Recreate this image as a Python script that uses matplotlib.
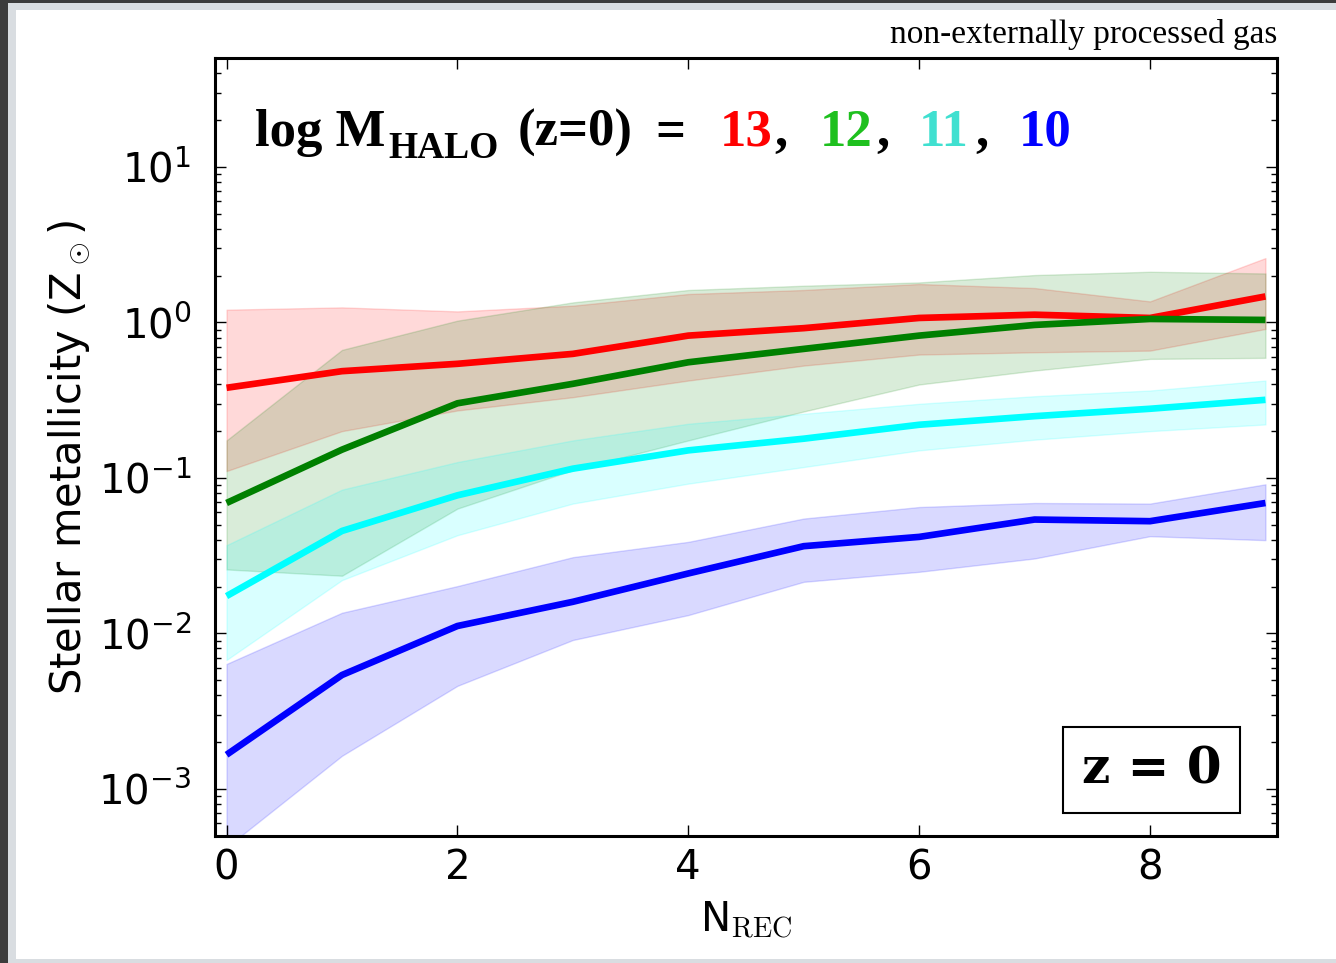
import numpy as np
import matplotlib
matplotlib.use('Agg')
import matplotlib.pyplot as plt
from matplotlib.patches import Rectangle

plt.rcParams['mathtext.fontset'] = 'cm'
plt.rcParams['font.family'] = ['DejaVu Sans']
plt.rcParams['axes.unicode_minus'] = False

# data (stellar metallicity in Z_sun vs N_REC)
n_rec = np.arange(10)
halo_mass = [13, 12, 11, 10]

z13_med = [0.380, 0.486, 0.542, 0.628, 0.823, 0.919, 1.069, 1.122, 1.069, 1.47]
z13_hi = [1.208, 1.25, 1.178, 1.282, 1.524, 1.617, 1.767, 1.665, 1.366, 2.594]
z13_lo = [0.1107, 0.200, 0.2716, 0.3306, 0.423, 0.528, 0.6216, 0.643, 0.659, 0.908]

z12_med = [0.069, 0.152, 0.302, 0.403, 0.5545, 0.676, 0.823, 0.964, 1.053, 1.038]
z12_hi = [0.1743, 0.666, 1.027, 1.346, 1.617, 1.723, 1.809, 2.018, 2.119, 2.066]
z12_lo = [0.0258, 0.0235, 0.0635, 0.1124, 0.1743, 0.2676, 0.399, 0.4905, 0.583, 0.592]

z11_med = [0.01738, 0.0456, 0.0773, 0.1147, 0.1504, 0.1788, 0.2198, 0.2496, 0.2785, 0.318]
z11_hi = [0.03693, 0.0841, 0.1265, 0.1743, 0.2231, 0.2587, 0.2998, 0.3354, 0.365, 0.423]
z11_lo = [0.00675, 0.02202, 0.0428, 0.0684, 0.0919, 0.1175, 0.1504, 0.1762, 0.200, 0.2208]

z10_med = [0.001658, 0.0054, 0.01116, 0.01597, 0.0243, 0.0364, 0.04176, 0.054, 0.0527, 0.069]
z10_hi = [0.00636, 0.01358, 0.02015, 0.03093, 0.0388, 0.0548, 0.065, 0.069, 0.0684, 0.091]
z10_lo = [0.000421, 0.001633, 0.0046, 0.00907, 0.01312, 0.02147, 0.0249, 0.03034, 0.0422, 0.0398]

meds = [z13_med, z12_med, z11_med, z10_med]
his = [z13_hi, z12_hi, z11_hi, z10_hi]
los = [z13_lo, z12_lo, z11_lo, z10_lo]
line_cols = ['red', 'green', 'cyan', 'blue']
label_cols = ['#ff0000', '#1ec01e', '#40e0d0', '#0000ff']

fig = plt.figure(figsize=(13.36, 9.63), dpi=100)
W, H = 1336., 963.

# screenshot frame around the plot
fig.patches.append(Rectangle((0, 0), 8/W, 1, transform=fig.transFigure, fc='#3c3c3c', ec='none', zorder=-5))
fig.patches.append(Rectangle((0, 1-3/H), 1, 3/H, transform=fig.transFigure, fc='#3c3c3c', ec='none', zorder=-5))
fig.patches.append(Rectangle((8/W, 0), 8/W, 1-3/H, transform=fig.transFigure, fc='#d9dde1', ec='none', zorder=-4))
fig.patches.append(Rectangle((8/W, 1-10/H), 1, 7/H, transform=fig.transFigure, fc='#d9dde1', ec='none', zorder=-4))
fig.patches.append(Rectangle((8/W, 0), 1, 4/H, transform=fig.transFigure, fc='#d9dde1', ec='none', zorder=-4))

ax = fig.add_axes([215/W, 1-835.7/H, 1062/W, 777.4/H])

for lo, hi, c in zip(los, his, line_cols):
    ax.fill_between(n_rec, lo, hi, color=c, alpha=0.15, lw=1)
for med, c in zip(meds, line_cols):
    ax.plot(n_rec, med, color=c, lw=4.8, solid_capstyle='butt')

ax.set_yscale('log')
ax.set_xlim(-0.1, 9.1)
ax.set_ylim(5e-4, 50)
ax.set_xticks([0, 2, 4, 6, 8])
ax.tick_params(which='both', direction='in', top=True, right=True)
ax.tick_params(which='major', length=8, width=1, labelsize=29)
ax.tick_params(which='minor', length=4.5, width=1)
ax.tick_params(axis='x', pad=9)
ax.tick_params(axis='y', pad=17)
for s in ax.spines.values():
    s.set_linewidth(2.2)

ax.set_xlabel(r'N$_{\mathrm{REC}}$', fontsize=29)
ax.set_ylabel(r'Stellar metallicity (Z$_\odot$)', fontsize=30)
ax.xaxis.set_label_coords(0.5, -0.082)
ax.yaxis.set_label_coords(-0.116, 0.487)

def axx(px):
    return (px - 215) / 1062.

def axy(py):
    return (835.7 - py) / 777.4

serif = 'Liberation Serif'
ax.text(axx(1277), axy(43), 'non-externally processed gas', transform=ax.transAxes,
        ha='right', va='baseline', fontsize=24, family=serif)

# title pieces
tfs = 38
def title_piece(px, py, s, size=tfs, color='black'):
    ax.text(axx(px), axy(py), s, transform=ax.transAxes, ha='left', va='baseline',
            fontsize=size, family=serif, fontweight='bold', color=color)

title_piece(255, 146, 'log M')
title_piece(388, 158, 'HALO', size=27)
title_piece(518, 146, '(z=0)')
title_piece(655, 146, '=')
num_x = [720, 820, 919, 1019]
comma_x = [774, 876, 975]
for i, (m, c) in enumerate(zip(halo_mass, label_cols)):
    title_piece(num_x[i], 146, str(m), color=c)
    if i < 3:
        title_piece(comma_x[i], 146, ',')

ax.text(axx(1151.5), axy(770), 'z = 0', transform=ax.transAxes, ha='center', va='center',
        fontsize=36, family='DejaVu Serif', fontweight='heavy',
        bbox=dict(boxstyle='square,pad=0.37', fc='white', ec='black', lw=1.5))

fig.savefig('out.png', dpi=100)
